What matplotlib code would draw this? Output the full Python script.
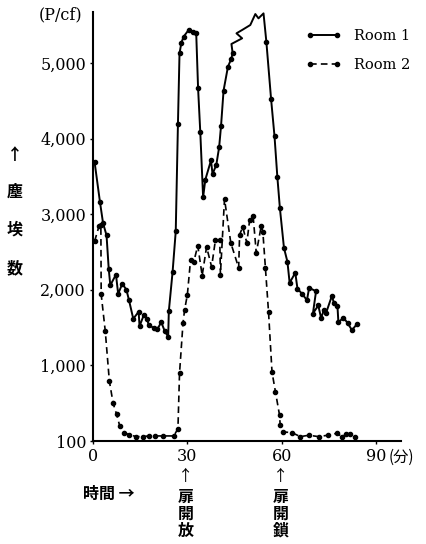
import matplotlib
matplotlib.use("Agg")
import matplotlib.pyplot as plt

# Room 1 (solid) : time in minutes, dust count (P/cf)
r1_t = [0.5, 2.2, 3.2, 4.3, 5.0, 5.5, 7.3, 8.0, 9.3, 10.6, 11.4, 12.8, 14.5, 14.8,
        16.1, 17.2, 17.7, 19.3, 20.4, 21.7, 22.8, 23.9, 24.1, 25.3, 26.3, 27.0,
        27.5, 28.1, 28.8, 30.4, 31.7, 32.8, 33.4, 34.1, 35.0, 35.7, 37.5, 38.0,
        39.2, 40.1, 40.7, 41.5, 42.9, 43.9, 44.4, 44.0, 47.4, 45.6, 47.4, 50.0,
        51.6, 52.6, 54.2, 55.1, 56.6, 57.7, 58.6, 59.4, 60.7, 61.8, 62.5, 64.3,
        65.0, 66.4, 68.0, 68.7, 70.9, 69.9, 71.6, 72.5, 73.4, 74.1, 75.9, 76.6,
        77.7, 78.0, 79.6, 80.9, 82.3, 83.8]
r1_v = [3690, 3165, 2880, 2720, 2276, 2060, 2200, 1946, 2078, 2003, 1870, 1616, 1709, 1519,
        1660, 1616, 1530, 1497, 1475, 1571, 1453, 1379, 1717, 2237, 2773, 4194,
        5127, 5268, 5347, 5435, 5413, 5400, 4666, 4085, 3222, 3455, 3710, 3530,
        3653, 3887, 4168, 4634, 4951, 5048, 5127, 5250, 5325, 5391, 5435, 5501,
        5646, 5589, 5655, 5281, 4524, 4027, 3490, 3081, 2554, 2370, 2092, 2224,
        2012, 1950, 1862, 2025, 1981, 1686, 1792, 1629, 1730, 1695, 1915, 1828,
        1783, 1571, 1629, 1563, 1466, 1541]
# points on the jagged top drawn without a dot
r1_plain = [45, 46, 47, 48, 49, 50, 51, 52]

# Room 2 (dashed)
r2_t = [0.5, 1.9, 2.5, 2.6, 3.9, 5.2, 6.4, 7.5, 8.5, 10.0, 11.4, 13.8, 15.8, 17.7,
        19.8, 22.2, 25.7, 27.0, 27.5, 28.6, 29.1, 30.0, 31.0, 32.0, 33.3, 34.7,
        36.1, 37.7, 38.9, 40.3, 40.5, 41.8, 43.8, 46.3, 46.6, 47.6, 48.9, 49.8,
        50.9, 51.9, 53.5, 54.0, 54.8, 55.8, 56.9, 58.0, 59.3, 59.5, 60.4, 63.2,
        65.9, 68.6, 71.7, 74.6, 77.5, 79.1, 80.5, 81.8, 83.3]
r2_v = [2640, 2840, 2860, 1940, 1453, 793, 498, 353, 199, 111, 84, 58, 58, 67,
        67, 67, 67, 164, 894, 1554, 1730, 1937, 2390, 2364, 2584, 2188,
        2567, 2303, 2654, 2663, 2201, 3200, 2620, 2290, 2729, 2830, 2620, 2927,
        2971, 2488, 2848, 2760, 2290, 1703, 912, 648, 340, 208, 120, 111,
        58, 76, 58, 76, 102, 58, 89, 89, 58]

y_ticks = [0, 1000, 2000, 3000, 4000, 5000]
y_labels = ["100", "1,000", "2,000", "3,000", "4,000", "5,000"]
x_ticks = [0, 30, 60, 90]
x_labels = ["0", "30", "60", "90"]

serif = "DejaVu Serif"
cjk = ["Noto Sans CJK JP", "DejaVu Sans"]

fig = plt.figure(figsize=(4.26, 5.44), dpi=100)
ax = fig.add_axes([93 / 426, 103 / 544, 308 / 426, 429 / 544])

marks1 = [i for i in range(len(r1_t)) if i not in r1_plain]
ax.plot(r1_t, r1_v, color="black", lw=1.4, marker="o", ms=3,
        markevery=marks1, label="Room 1", clip_on=False)
ax.plot(r2_t, r2_v, color="black", lw=1.2, ls=(0, (4, 2.5)), marker="o", ms=3,
        label="Room 2", clip_on=False)

ax.set_xlim(0, 97.9)
ax.set_ylim(0, 5673)
ax.set_xticks(x_ticks)
ax.set_xticklabels(x_labels, fontfamily=serif, fontsize=11.5)
ax.set_yticks(y_ticks)
ax.set_yticklabels(y_labels, fontfamily=serif, fontsize=11.5)
ax.tick_params(length=2.5, width=1, pad=2.5, direction="out")
for s in ["top", "right"]:
    ax.spines[s].set_visible(False)
for s in ["left", "bottom"]:
    ax.spines[s].set_linewidth(1.5)

leg = ax.legend(loc="upper left", bbox_to_anchor=(306 / 426, 1 - 29 / 544),
                bbox_transform=fig.transFigure, frameon=False, numpoints=2,
                handlelength=2.4, handletextpad=0.9, labelspacing=1.05,
                borderpad=0, borderaxespad=0,
                prop={"family": serif, "size": 10.5})

fig.text(61 / 426, 1 - 15 / 544, "(P/cf)", family=serif, fontsize=11.5,
         ha="center", va="center")
fig.text(389 / 426, 1 - 457 / 544, "(分)", family=cjk, fontsize=11,
         ha="left", va="center")

for ch, yy in zip(["↑", "塵", "埃", "数"], [155, 192, 230, 268]):
    fig.text(15 / 426, 1 - yy / 544, ch, family=cjk, fontsize=11.5,
             fontweight="bold", ha="center", va="center")

fig.text(83 / 426, 1 - 494 / 544, "時間 →", family=cjk, fontsize=11.5,
         fontweight="bold", ha="left", va="center")

for xx, word in [(186, "扉開放"), (281, "扉開鎖")]:
    fig.text(xx / 426, 1 - 476 / 544, "↑", family=cjk, fontsize=11,
             ha="center", va="center")
    for k, ch in enumerate(word):
        fig.text(xx / 426, 1 - (497 + 17 * k) / 544, ch, family=cjk,
                 fontsize=11.5, fontweight="bold", ha="center", va="center")

fig.savefig("out.png", dpi=100)
